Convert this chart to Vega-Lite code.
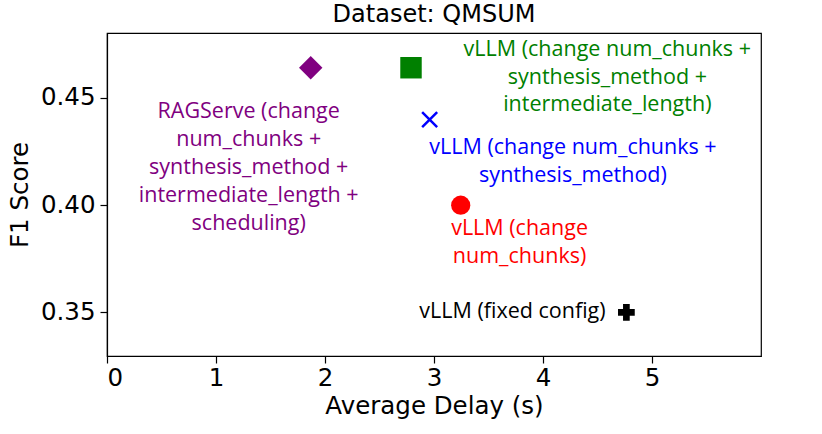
{
  "$schema": "https://vega.github.io/schema/vega-lite/v6.json",
  "autosize": "none",
  "width": 654,
  "height": 323,
  "padding": {"left": 107, "top": 33, "right": 61, "bottom": 78},
  "background": "white",
  "config": {
    "font": "DejaVu Sans",
    "view": {"stroke": "black", "strokeWidth": 1.2},
    "axis": {"grid": false, "domainColor": "black", "tickColor": "black", "labelColor": "black", "titleColor": "black", "labelFont": "DejaVu Sans", "titleFont": "DejaVu Sans", "titleFontWeight": "normal", "labelFontSize": 24.5, "titleFontSize": 24.5, "tickSize": 7, "tickWidth": 1.2, "domainWidth": 1.2}
  },
  "title": {"text": "Dataset: QMSUM", "fontSize": 24, "fontWeight": "normal", "font": "DejaVu Sans", "color": "black", "offset": 6},
  "data": {"values": [
    {"series": "RAGServe", "delay": 1.869, "f1": 0.4641, "label": "RAGServe (change\nnum_chunks +\nsynthesis_method +\nintermediate_length +\nscheduling)", "lx": 1.3, "ly": 0.4433},
    {"series": "vLLM3", "delay": 2.789, "f1": 0.4641, "label": "vLLM (change num_chunks +\nsynthesis_method +\nintermediate_length)", "lx": 4.59, "ly": 0.4725},
    {"series": "vLLM2", "delay": 2.96, "f1": 0.4399, "label": "vLLM (change num_chunks +\nsynthesis_method)", "lx": 4.275, "ly": 0.4267},
    {"series": "vLLM1", "delay": 3.245, "f1": 0.4, "label": "vLLM (change\nnum_chunks)", "lx": 3.785, "ly": 0.389},
    {"series": "fixed", "delay": 4.765, "f1": 0.35, "label": "vLLM (fixed config)", "lx": 3.72, "ly": 0.3502}
  ]},
  "layer": [
    {
      "transform": [{"filter": "datum.series != 'vLLM2'"}],
      "mark": {"type": "point", "filled": true, "opacity": 1},
      "encoding": {
        "x": {"field": "delay", "type": "quantitative", "scale": {"domain": [0, 6.0], "nice": false, "zero": false}, "axis": {"values": [0, 1, 2, 3, 4, 5], "format": "d", "title": "Average Delay (s)", "titlePadding": 5, "labelPadding": 3}},
        "y": {"field": "f1", "type": "quantitative", "scale": {"domain": [0.3297, 0.4803], "nice": false, "zero": false}, "axis": {"values": [0.35, 0.4, 0.45], "format": ".2f", "title": "F1 Score", "titlePadding": 8, "labelPadding": 5}},
        "shape": {"field": "series", "type": "nominal", "scale": {"domain": ["RAGServe", "vLLM3", "vLLM1", "fixed"], "range": ["diamond", "square", "circle", "cross"]}, "legend": null},
        "size": {"field": "series", "type": "nominal", "scale": {"domain": ["RAGServe", "vLLM3", "vLLM1", "fixed"], "range": [550, 280, 266, 225]}, "legend": null},
        "color": {"field": "series", "type": "nominal", "scale": {"domain": ["RAGServe", "vLLM3", "vLLM2", "vLLM1", "fixed"], "range": ["#800080", "#008000", "#0000ff", "#ff0000", "#000000"]}, "legend": null}
      }
    },
    {
      "transform": [{"filter": "datum.series == 'vLLM2'"}],
      "mark": {"type": "point", "filled": false, "shape": "M-1,-1L1,1M-1,1L1,-1", "size": 225, "strokeWidth": 2.5, "opacity": 1},
      "encoding": {
        "x": {"field": "delay", "type": "quantitative"},
        "y": {"field": "f1", "type": "quantitative"},
        "color": {"field": "series", "type": "nominal", "legend": null}
      }
    },
    {
      "mark": {"type": "text", "lineBreak": "\n", "fontSize": 21.5, "lineHeight": 27.8, "align": "center", "baseline": "middle", "font": "Open Sans"},
      "encoding": {
        "x": {"field": "lx", "type": "quantitative"},
        "y": {"field": "ly", "type": "quantitative"},
        "text": {"field": "label", "type": "nominal"},
        "color": {"field": "series", "type": "nominal", "legend": null}
      }
    }
  ]
}
